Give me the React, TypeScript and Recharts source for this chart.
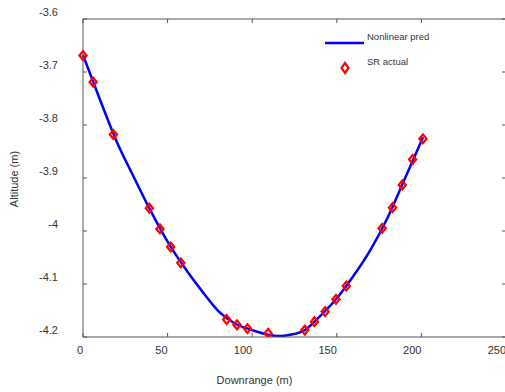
import { ComposedChart, Line, Scatter, XAxis, YAxis, Label } from "recharts";

// SR actual measurements (downrange m, altitude m)
const srDownrange = [
  0, 6, 18, 39.2, 45.5, 51.8, 57.8, 84.9, 91, 97.2, 109.4, 131.1, 136.8, 143.1,
  149.5, 155.6, 176.8, 182.9, 188.7, 194.8, 200.9,
];
const srAltitude = [
  -3.669, -3.719, -3.818, -3.957, -3.996, -4.03, -4.06, -4.167, -4.177, -4.184,
  -4.193, -4.187, -4.171, -4.152, -4.129, -4.104, -3.995, -3.956, -3.913,
  -3.865, -3.826,
];

// Nonlinear prediction curve
const predDownrange = [
  0, 10, 20, 30, 40, 50, 60, 70, 80, 90, 100, 110, 115, 120, 130, 140, 150, 160,
  170, 180, 190, 201,
];
const predAltitude = [
  -3.668, -3.752, -3.832, -3.898, -3.962, -4.02, -4.069, -4.112, -4.151,
  -4.175, -4.187, -4.196, -4.198, -4.197, -4.189, -4.161, -4.127, -4.084,
  -4.035, -3.975, -3.903, -3.823,
];

const xTicks = [0, 50, 100, 150, 200, 250];
const yTicks = [-4.2, -4.1, -4, -3.9, -3.8, -3.7, -3.6];

const srData = srDownrange.map((x, i) => ({ x, alt: srAltitude[i] }));
const predData = predDownrange.map((x, i) => ({ x, alt: predAltitude[i] }));

const FONT = "'Liberation Sans', Arial, sans-serif";
const AXIS = "#555";
const TEXT = "#333";
const TICK = 4;

const fmtY = (v: number) => String(Number(v.toFixed(1)));

function BottomTick(props: any) {
  const { x, y, payload } = props;
  return (
    <g>
      <line x1={x} y1={y} x2={x} y2={y - TICK} stroke={AXIS} />
      <text
        x={x}
        y={y + 13.5}
        dy="0.36em"
        textAnchor="end"
        fontSize={11}
        fontFamily={FONT}
        fill={TEXT}
      >
        {payload.value}
      </text>
    </g>
  );
}

function TopTick(props: any) {
  const { x, y } = props;
  return <line x1={x} y1={y} x2={x} y2={y + TICK} stroke={AXIS} />;
}

function LeftTick(props: any) {
  const { x, y, payload } = props;
  return (
    <g>
      <line x1={x} y1={y} x2={x + TICK} y2={y} stroke={AXIS} />
      <text
        x={x - 25}
        y={y - 6.5}
        dy="0.36em"
        textAnchor="end"
        fontSize={11}
        fontFamily={FONT}
        fill={TEXT}
      >
        {fmtY(payload.value)}
      </text>
    </g>
  );
}

function RightTick(props: any) {
  const { x, y } = props;
  return <line x1={x} y1={y} x2={x - TICK} y2={y} stroke={AXIS} />;
}

function Diamond(props: any) {
  const { cx, cy } = props;
  const rx = 3.6;
  const ry = 4.4;
  return (
    <path
      d={`M${cx},${cy - ry}L${cx + rx},${cy}L${cx},${cy + ry}L${cx - rx},${cy}Z`}
      fill="none"
      stroke="#ff0000"
      strokeWidth={2.2}
    />
  );
}

function LegendBox() {
  return (
    <svg
      width={140}
      height={56}
      style={{ position: "absolute", left: 320, top: 25, display: "block" }}
    >
      <line x1={5} y1={18} x2={44} y2={18} stroke="#0000ff" strokeWidth={2.5} />
      <text x={47} y={12} dy="0.36em" fontSize={9.5} fontFamily={FONT} fill={TEXT}>
        Nonlinear pred
      </text>
      <path
        d="M25,38L28.5,43L25,48L21.5,43Z"
        fill="none"
        stroke="#ff0000"
        strokeWidth={2.2}
      />
      <text x={47} y={37} dy="0.36em" fontSize={9.5} fontFamily={FONT} fill={TEXT}>
        SR actual
      </text>
    </svg>
  );
}

export default function App() {
  return (
    <div
      style={{
        position: "absolute",
        left: 0,
        top: 0,
        width: 505,
        height: 392,
        overflow: "hidden",
        background: "#fff",
      }}
    >
      <ComposedChart
        width={512}
        height={392}
        margin={{ top: 18, right: 5, bottom: 0, left: 0 }}
      >
        <XAxis
          dataKey="x"
          type="number"
          domain={[0, 250]}
          ticks={xTicks}
          interval={0}
          height={55}
          tickSize={0}
          tickMargin={0}
          tickLine={false}
          tick={<BottomTick />}
          axisLine={{ stroke: AXIS }}
        >
          <Label
            content={(p: any) => (
              <text
                x={p.viewBox.x + p.viewBox.width / 2 - 40}
                y={380}
                dy="0.36em"
                textAnchor="middle"
                fontSize={11}
                fontFamily={FONT}
                fill={TEXT}
              >
                Downrange (m)
              </text>
            )}
          />
        </XAxis>
        <XAxis
          xAxisId="top"
          orientation="top"
          dataKey="x"
          type="number"
          domain={[0, 250]}
          ticks={xTicks}
          interval={0}
          height={1}
          tickSize={0}
          tickMargin={0}
          tickLine={false}
          tick={<TopTick />}
          axisLine={{ stroke: AXIS }}
        />
        <YAxis
          dataKey="alt"
          type="number"
          domain={[-4.2, -3.6]}
          allowDataOverflow
          ticks={yTicks}
          interval={0}
          width={83}
          tickSize={0}
          tickMargin={0}
          tickLine={false}
          tick={<LeftTick />}
          axisLine={{ stroke: AXIS }}
        >
          <Label
            content={(p: any) => {
              const cx = 14;
              const cy = p.viewBox.y + p.viewBox.height / 2 + 1;
              return (
                <text
                  x={cx}
                  y={cy}
                  dy="0.36em"
                  textAnchor="middle"
                  fontSize={11}
                  fontFamily={FONT}
                  fill={TEXT}
                  transform={`rotate(-90 ${cx} ${cy})`}
                >
                  Altitude (m)
                </text>
              );
            }}
          />
        </YAxis>
        <YAxis
          yAxisId="right"
          orientation="right"
          dataKey="alt"
          type="number"
          domain={[-4.2, -3.6]}
          allowDataOverflow
          ticks={yTicks}
          interval={0}
          width={1}
          tickSize={0}
          tickMargin={0}
          tickLine={false}
          tick={<RightTick />}
          axisLine={{ stroke: AXIS }}
        />
        {/* invisible series that anchors the top/right frame axes */}
        <Line
          data={predData}
          dataKey="alt"
          xAxisId="top"
          yAxisId="right"
          stroke="none"
          dot={false}
          activeDot={false}
          legendType="none"
          isAnimationActive={false}
        />
        <Line
          data={predData}
          dataKey="alt"
          name="Nonlinear pred"
          type="monotone"
          stroke="#0000ff"
          strokeWidth={2.5}
          dot={false}
          activeDot={false}
          isAnimationActive={false}
        />
        <Scatter
          data={srData}
          dataKey="alt"
          name="SR actual"
          shape={<Diamond />}
          isAnimationActive={false}
        />
      </ComposedChart>
      <LegendBox />
    </div>
  );
}
